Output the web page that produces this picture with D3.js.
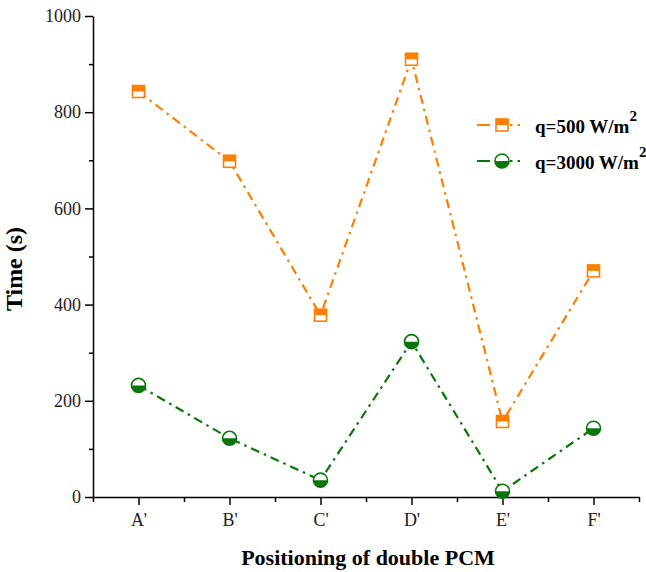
<!DOCTYPE html>
<html>
<head>
<meta charset="utf-8">
<script src="https://cdn.jsdelivr.net/npm/d3@7"></script>
<style>
  body { margin: 0; background: #fff; }
  svg { font-family: "Liberation Serif", "Times New Roman", serif; }
</style>
</head>
<body>
<svg width="646" height="572"></svg>
<script>
// values
var categories = ["A'", "B'", "C'", "D'", "E'", "F'"];
var q500 = [843, 698, 378, 910, 157, 470];
var q3000 = [232, 122, 35, 323, 12, 143];
var yTicks = [0, 200, 400, 600, 800, 1000];
var yMinor = [100, 300, 500, 700, 900];

var orange = "#ff7f00",
  green = "#0a760a";

var svg = d3.select("svg");

var x = d3.scaleLinear().domain([-0.5, 5.5]).range([93, 639]);
var y = d3.scaleLinear().domain([0, 1000]).range([497, 16]);

// axes
svg.append("g")
  .attr("transform", "translate(93,0)")
  .call(d3.axisLeft(y).tickValues(yTicks).tickFormat(d3.format("d"))
    .tickSize(8).tickSizeOuter(0).tickPadding(4));
svg.append("g")
  .attr("transform", "translate(93,0)")
  .call(d3.axisLeft(y).tickValues(yMinor).tickSize(4).tickFormat(""))
  .select(".domain").remove();

svg.append("g")
  .attr("transform", "translate(0,497)")
  .call(d3.axisBottom(x).tickValues(d3.range(categories.length))
    .tickFormat(function (d) { return categories[d]; })
    .tickSize(8).tickSizeOuter(0).tickPadding(8));
svg.append("g")
  .attr("transform", "translate(0,497)")
  .call(d3.axisBottom(x).tickValues(d3.range(-0.5, categories.length, 1)).tickSize(5).tickFormat(""))
  .select(".domain").remove();

svg.selectAll(".domain, .tick line").attr("stroke", "#000").attr("stroke-width", 1.5);
svg.selectAll(".tick text").attr("font-size", 18).attr("fill", "#222")
  .attr("font-family", "Liberation Serif, serif");

// axis titles
svg.append("text")
  .attr("x", 368).attr("y", 565)
  .attr("text-anchor", "middle")
  .attr("font-size", 22).attr("font-weight", "bold")
  .text("Positioning of double PCM");
svg.append("text")
  .attr("transform", "translate(22,269) rotate(-90)")
  .attr("text-anchor", "middle")
  .attr("font-size", 24).attr("font-weight", "bold")
  .text("Time (s)");

var dash = "9,5,2.5,5";

function drawSeries(values, color) {
  var line = d3.line()
    .x(function (d, i) { return x(i); })
    .y(function (d) { return y(d); });
  svg.append("path")
    .datum(values)
    .attr("d", line)
    .attr("fill", "none")
    .attr("stroke", color)
    .attr("stroke-width", 2.2)
    .attr("stroke-dasharray", dash);
}

function squareMarker(g, cx, cy, color) {
  var s = 12;
  g.append("rect").attr("x", cx - s / 2).attr("y", cy - s / 2).attr("width", s).attr("height", s)
    .attr("fill", "#fff");
  g.append("rect").attr("x", cx - s / 2).attr("y", cy - s / 2).attr("width", s).attr("height", s / 2)
    .attr("fill", color);
  g.append("rect").attr("x", cx - s / 2).attr("y", cy - s / 2).attr("width", s).attr("height", s)
    .attr("fill", "none").attr("stroke", color).attr("stroke-width", 1.6);
}

function circleMarker(g, cx, cy, color) {
  var r = 7;
  g.append("circle").attr("cx", cx).attr("cy", cy).attr("r", r).attr("fill", "#fff");
  g.append("path")
    .attr("d", "M" + (cx - r) + "," + cy + " A" + r + "," + r + " 0 0 0 " + (cx + r) + "," + cy + " Z")
    .attr("fill", color);
  g.append("circle").attr("cx", cx).attr("cy", cy).attr("r", r)
    .attr("fill", "none").attr("stroke", color).attr("stroke-width", 1.6);
}

drawSeries(q500, orange);
drawSeries(q3000, green);

var mk = svg.append("g");
q500.forEach(function (v, i) { squareMarker(mk, x(i), y(v), orange); });
q3000.forEach(function (v, i) { circleMarker(mk, x(i), y(v), green); });

// legend
var legend = [
  { label: "q=500 W/m", color: orange, marker: squareMarker, y: 125 },
  { label: "q=3000 W/m", color: green, marker: circleMarker, y: 161 }
];
legend.forEach(function (d) {
  svg.append("line")
    .attr("x1", 477).attr("x2", 525).attr("y1", d.y).attr("y2", d.y)
    .attr("stroke", d.color).attr("stroke-width", 2.2)
    .attr("stroke-dasharray", "13,20,2.5,5,2.5,5");
  d.marker(svg, 502, d.y, d.color);
  var t = svg.append("text")
    .attr("x", 535).attr("y", d.y + 8)
    .attr("font-size", 19).attr("font-weight", "bold")
    .text(d.label);
  t.append("tspan").attr("dy", -12).attr("font-size", 15).text("2");
});
</script>
</body>
</html>
